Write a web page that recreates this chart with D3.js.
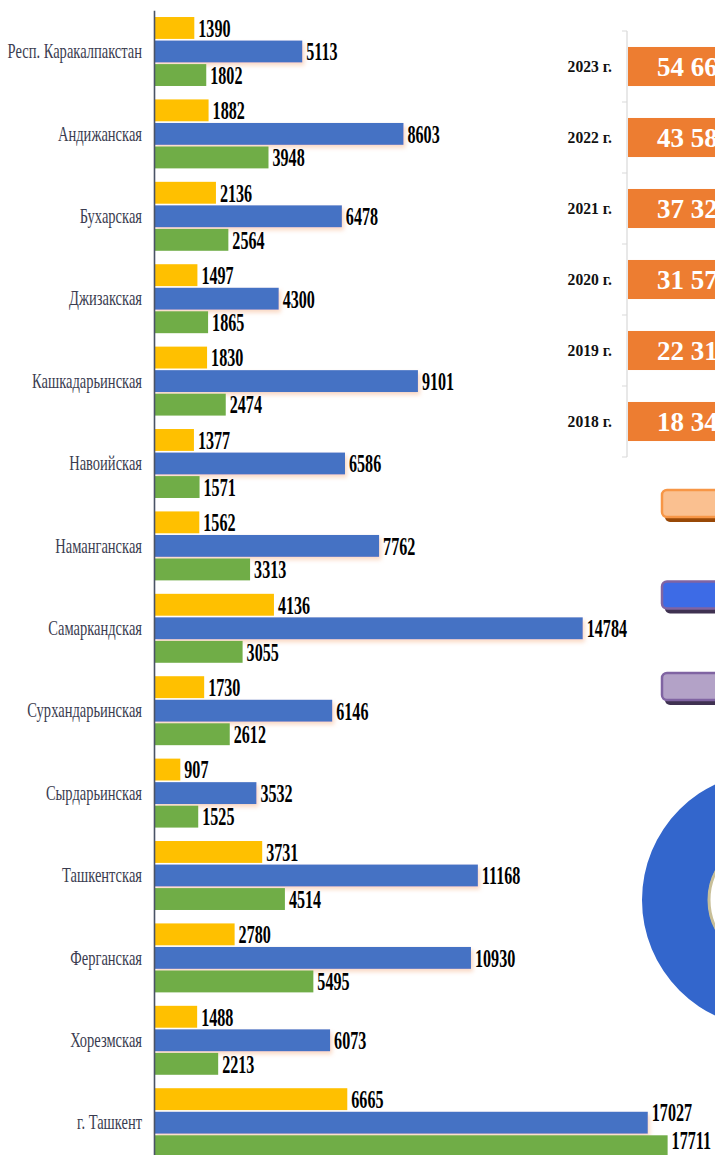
<!DOCTYPE html>
<html>
<head>
<meta charset="utf-8">
<script src="https://cdn.jsdelivr.net/npm/d3@7"></script>
<style>
  html, body { margin: 0; padding: 0; background: #fff; overflow: hidden; }
  svg { display: block; font-family: "Liberation Serif", "Times New Roman", serif; }
</style>
</head>
<body>
<div id="container"></div>
<script>
/* DATA */
const regions = ["Респ. Каракалпакстан", "Андижанская", "Бухарская", "Джизакская",
  "Кашкадарьинская", "Навоийская", "Наманганская", "Самаркандская", "Сурхандарьинская",
  "Сырдарьинская", "Ташкентская", "Ферганская", "Хорезмская", "г. Ташкент"];
const seriesYellow = [1390, 1882, 2136, 1497, 1830, 1377, 1562, 4136, 1730, 907, 3731, 2780, 1488, 6665];
const seriesBlue = [5113, 8603, 6478, 4300, 9101, 6586, 7762, 14784, 6146, 3532, 11168, 10930, 6073, 17027];
const seriesGreen = [1802, 3948, 2564, 1865, 2474, 1571, 3313, 3055, 2612, 1525, 4514, 5495, 2213, 17711];

const years = ["2023 г.", "2022 г.", "2021 г.", "2020 г.", "2019 г.", "2018 г."];
const yearTotals = [54662, 43584, 37321, 31572, 22316, 18349];

const legendKeys = ["a", "b", "c"];
const donutValues = [1];

/* CONSTANTS */
const width = 715, height = 1155;
const colors = { yellow: "#FFC000", blue: "#4472C4", green: "#70AD47" };

const svg = d3.select("#container").append("svg")
  .attr("width", width)
  .attr("height", height);

const defs = svg.append("defs");
const shadow = defs.append("filter").attr("id", "barShadow")
  .attr("x", "-5%").attr("y", "-30%").attr("width", "115%").attr("height", "190%");
shadow.append("feDropShadow")
  .attr("dx", 2).attr("dy", 3).attr("stdDeviation", 2)
  .attr("flood-color", "#F4A97A").attr("flood-opacity", 0.45);

/* LEFT CHART: SCALES */
const xScale = d3.scaleLinear()
  .domain([0, 20000])
  .range([154, 734]);

const yScale = d3.scaleBand()
  .domain(regions)
  .range([10.3, 1163.9])
  .paddingInner(0.163)
  .paddingOuter(0.0815);

const keys = ["yellow", "blue", "green"];
const subScale = d3.scaleBand()
  .domain(keys)
  .range([0, yScale.bandwidth()])
  .paddingInner(0.07);

const rows = regions.map((r, i) => ({
  region: r,
  yellow: seriesYellow[i],
  blue: seriesBlue[i],
  green: seriesGreen[i]
}));

const groups = svg.selectAll(".group")
  .data(rows)
  .join("g")
  .attr("class", "group")
  .attr("transform", d => `translate(0, ${yScale(d.region)})`);

groups.selectAll("rect")
  .data(d => keys.map(k => ({ key: k, value: d[k], region: d.region })))
  .join("rect")
  .attr("x", xScale(0))
  .attr("y", d => subScale(d.key))
  .attr("height", subScale.bandwidth())
  .attr("width", d => xScale(d.value) - xScale(0))
  .attr("fill", d => colors[d.key])
  .attr("filter", d => d.key === "blue" ? "url(#barShadow)" : null);

// value labels (condensed bold serif)
const last = regions[regions.length - 1];
groups.selectAll("text.val")
  .data(d => keys.map(k => ({ key: k, value: d[k], region: d.region })))
  .join("text")
  .attr("class", "val")
  .attr("transform", d => {
    let lift = 0;
    if (d.region === last && d.key === "blue") lift = -11;
    if (d.region === last && d.key === "green") lift = -6;
    const cy = subScale(d.key) + subScale.bandwidth() / 2 + lift;
    return `translate(${xScale(d.value) + 4}, ${cy}) scale(0.62, 1)`;
  })
  .attr("dy", "0.34em")
  .attr("font-size", 26)
  .attr("font-weight", "bold")
  .attr("fill", "#000")
  .text(d => d.value);

// category axis
const yAxis = d3.axisLeft(yScale).tickSize(0).tickSizeOuter(0).tickPadding(0);
const axisG = svg.append("g")
  .attr("transform", `translate(${xScale(0)}, 0)`)
  .call(yAxis);
axisG.select(".domain").attr("stroke", "#4A5366").attr("stroke-width", 1.6);
axisG.selectAll(".tick text")
  .attr("x", -12 / 0.66)
  .attr("dy", "0.3em")
  .attr("transform", "scale(0.66, 1)")
  .attr("font-family", "'Liberation Serif', serif")
  .attr("font-size", 22)
  .attr("fill", "#3A3C50");

/* RIGHT PANEL: YEAR TOTALS */
const x2 = d3.scaleLinear()
  .domain([0, 60000])
  .range([628, 1228]);

const y2 = d3.scaleBand()
  .domain(years)
  .range([31, 457])
  .paddingInner(0.45)
  .paddingOuter(0.225);

const right = svg.append("g");
right.append("line")
  .attr("x1", 627).attr("x2", 627)
  .attr("y1", y2.range()[0]).attr("y2", y2.range()[1])
  .attr("stroke", "#D9D9D9").attr("stroke-width", 1.2);

right.selectAll(".tk")
  .data(d3.range(years.length + 1))
  .join("line")
  .attr("class", "tk")
  .attr("x1", 622).attr("x2", 627)
  .attr("y1", i => y2.range()[0] + i * y2.step())
  .attr("y2", i => y2.range()[0] + i * y2.step())
  .attr("stroke", "#D9D9D9");

right.selectAll(".ybar")
  .data(years)
  .join("rect")
  .attr("class", "ybar")
  .attr("x", x2(0))
  .attr("y", d => y2(d))
  .attr("height", y2.bandwidth())
  .attr("width", (d, i) => x2(yearTotals[i]) - x2(0))
  .attr("fill", "#ED7D31");

right.selectAll(".ylab")
  .data(years)
  .join("text")
  .attr("class", "ylab")
  .attr("transform", d => `translate(612, ${y2(d) + y2.bandwidth() / 2}) scale(0.92, 1)`)
  .attr("dy", "0.34em")
  .attr("text-anchor", "end")
  .attr("font-size", 17)
  .attr("font-weight", "bold")
  .attr("fill", "#111")
  .text(d => d);

right.selectAll(".yval")
  .data(years)
  .join("text")
  .attr("class", "yval")
  .attr("x", 657)
  .attr("y", d => y2(d) + y2.bandwidth() / 2)
  .attr("dy", "0.35em")
  .attr("font-size", 27)
  .attr("font-weight", "bold")
  .attr("fill", "#fff")
  .text((d, i) => d3.format(",")(yearTotals[i]).replace(",", " "));

/* LEGEND KEYS */
const keyStyles = [
  { fill: "#FAC090", stroke: "#F79646", shade: "#984807" },
  { fill: "#3D6BE6", stroke: "#8064A2", shade: "#3F3151" },
  { fill: "#B3A2C7", stroke: "#8064A2", shade: "#3F3151" }
];
const keyY = d3.scalePoint().domain(legendKeys).range([490, 673]);

const keysG = svg.selectAll(".key")
  .data(legendKeys)
  .join("g")
  .attr("class", "key")
  .attr("transform", d => `translate(662, ${keyY(d)})`);

keysG.append("rect")
  .attr("x", 3).attr("y", 5)
  .attr("width", 140).attr("height", 27).attr("rx", 5)
  .attr("fill", (d, i) => keyStyles[i].shade);
keysG.append("rect")
  .attr("x", 0).attr("y", 0)
  .attr("width", 140).attr("height", 27).attr("rx", 5)
  .attr("fill", (d, i) => keyStyles[i].fill)
  .attr("stroke", (d, i) => keyStyles[i].stroke)
  .attr("stroke-width", 2.5);

/* DONUT */
const pie = d3.pie().sort(null);
const arc = d3.arc().innerRadius(62).outerRadius(128);
const donut = svg.append("g").attr("transform", "translate(770, 900)");
donut.selectAll("path")
  .data(pie(donutValues))
  .join("path")
  .attr("d", arc)
  .attr("fill", "#3366CC");
donut.append("circle")
  .attr("r", 61)
  .attr("fill", "#fff")
  .attr("stroke", "#C8BF98")
  .attr("stroke-width", 3);
</script>
</body>
</html>
